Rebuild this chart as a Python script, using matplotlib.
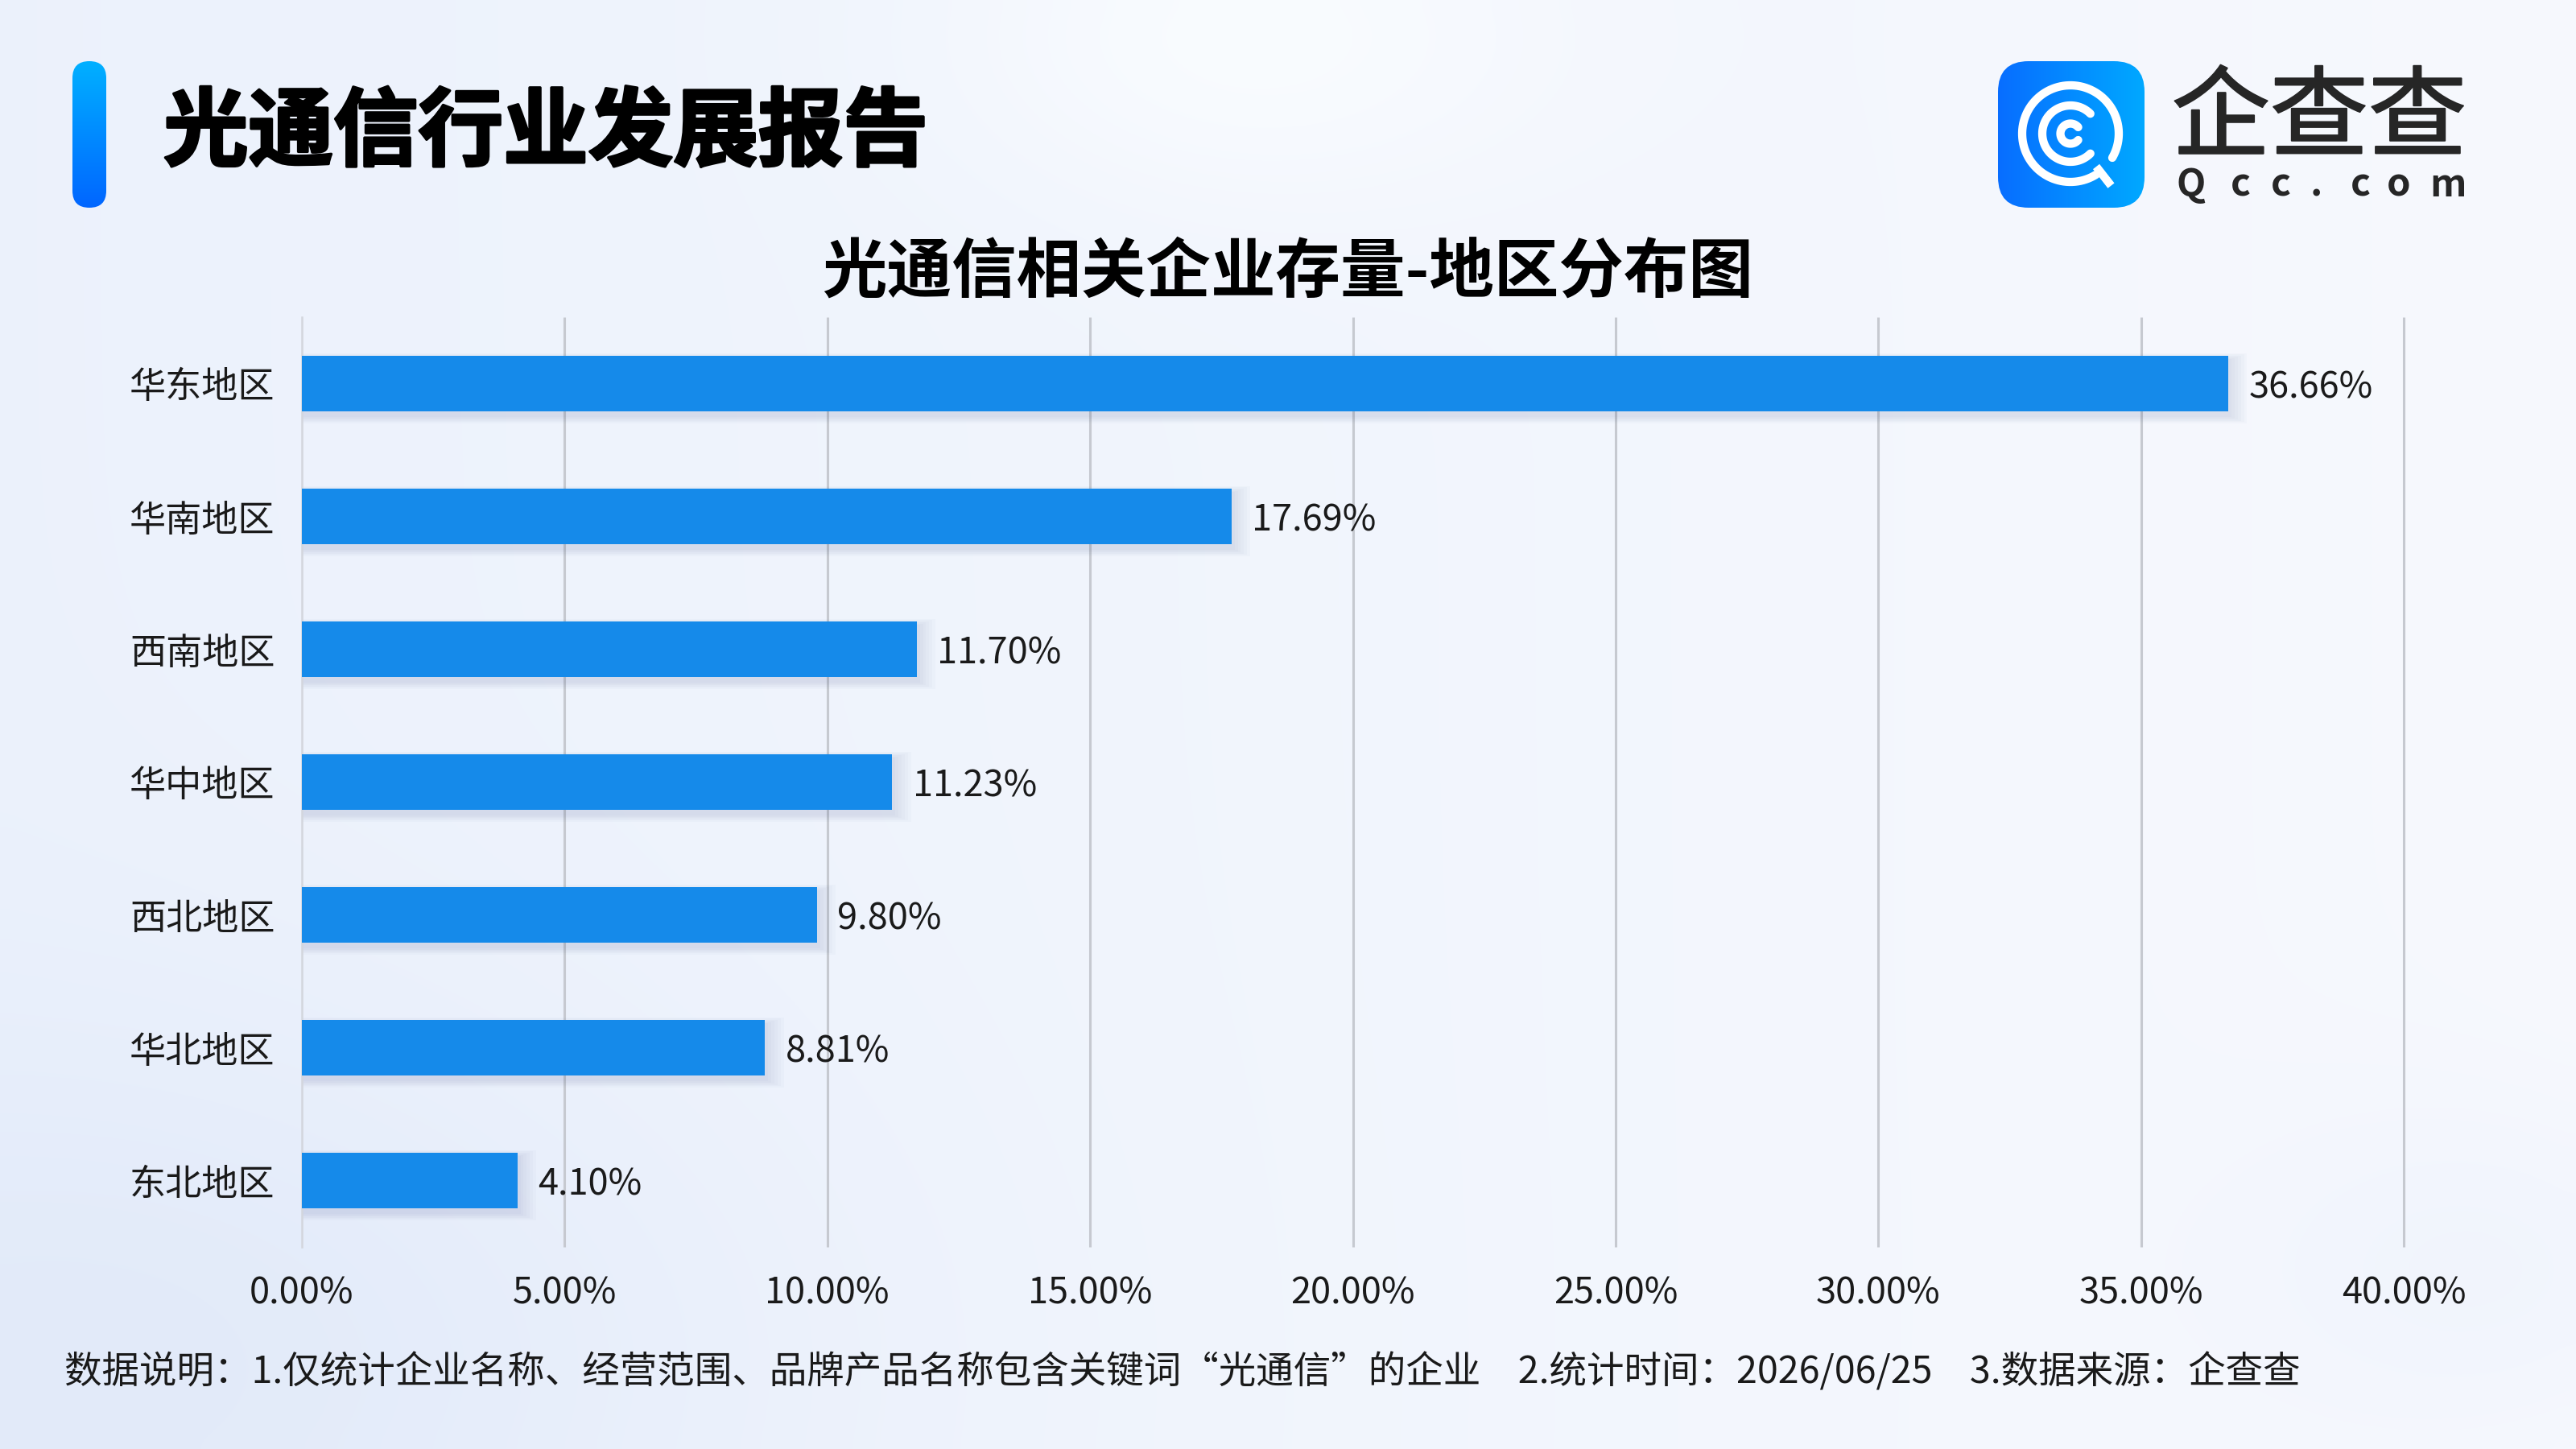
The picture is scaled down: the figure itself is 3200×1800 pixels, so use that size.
import numpy as np
import matplotlib
matplotlib.use('Agg')
import matplotlib.pyplot as plt
import matplotlib.patheffects as pe
from matplotlib.patches import FancyBboxPatch

# ---------------- data ----------------
categories = ['华东地区', '华南地区', '西南地区', '华中地区', '西北地区', '华北地区', '东北地区']
values = [36.66, 17.69, 11.70, 11.23, 9.80, 8.81, 4.10]
xticks = [0, 5, 10, 15, 20, 25, 30, 35, 40]
xtick_labels = ['0.00%', '5.00%', '10.00%', '15.00%', '20.00%', '25.00%', '30.00%', '35.00%', '40.00%']
header_title = '光通信行业发展报告'
chart_title = '光通信相关企业存量-地区分布图'
footnote = '数据说明：1.仅统计企业名称、经营范围、品牌产品名称包含关键词“光通信”的企业\u30002.统计时间：2026/06/25\u30003.数据来源：企查查'
logo_cn = '企查查'
logo_en = 'Qcc.com'

plt.rcParams['font.family'] = ['Noto Sans CJK SC', 'DejaVu Sans']

W, H = 3200, 1800
fig = plt.figure(figsize=(32, 18), dpi=100)

# ---------------- background ----------------
bg = fig.add_axes([0, 0, 1, 1], zorder=0)
gh, gw = 90, 160
yy, xx = np.mgrid[0:gh, 0:gw]
xn, yn = xx / (gw - 1), yy / (gh - 1)
c_left = np.array([0.925, 0.948, 0.988])
c_right = np.array([0.968, 0.976, 0.996])
img = c_left[None, None, :] * (1 - xn[..., None]) + c_right[None, None, :] * xn[..., None]
blob1 = np.exp(-(((xn - 0.05) / 0.25) ** 2 + ((yn - 0.95) / 0.25) ** 2))
blob2 = np.exp(-(((xn - 0.48) / 0.12) ** 2 + ((yn - 0.02) / 0.12) ** 2))
blob3 = np.exp(-(((xn - 0.97) / 0.1) ** 2 + ((yn - 0.88) / 0.12) ** 2))
img = img - blob1[..., None] * np.array([0.04, 0.03, 0.01]) \
          + blob2[..., None] * np.array([0.03, 0.025, 0.008]) \
          - blob3[..., None] * np.array([0.02, 0.015, 0.004])
img = np.clip(img, 0, 1)
bg.imshow(img, extent=[0, W, H, 0], aspect='auto', interpolation='bicubic')
bg.set_xlim(0, W)
bg.set_ylim(H, 0)
bg.axis('off')

# ---------------- chart ----------------
ax = fig.add_axes([375 / W, 1 - 1549 / H, 2611 / W, (1549 - 394) / H], zorder=2)
ax.patch.set_alpha(0)
ypos = np.arange(len(categories))
vals = np.array(values)
bar_h = 0.42

for k in range(1, 7):
    ax.barh(ypos + 0.035, vals + 0.06 * k, height=bar_h + 0.018 * k, left=0,
            color=(0.25, 0.35, 0.6), alpha=0.022, linewidth=0, zorder=2)
ax.barh(ypos, vals, height=bar_h, color='#158AEA', linewidth=0, zorder=3)

ax.set_xlim(xticks[0], xticks[-1])
ax.set_ylim(len(categories) - 0.5, -0.5)
ax.vlines(xticks[1:], -0.5, len(categories) - 0.5, colors='#C6C9D0', lw=2.2, zorder=1, clip_on=False)

for s in ['top', 'right', 'bottom']:
    ax.spines[s].set_visible(False)
ax.spines['left'].set_color('#D3D6DD')
ax.spines['left'].set_linewidth(1.8)

ax.set_xticks(xticks, xtick_labels)
ax.set_yticks(ypos, categories)
ax.tick_params(axis='x', length=0, pad=25, labelsize=32.5, labelcolor='#1a1a1a')
ax.tick_params(axis='y', length=0, pad=24, labelsize=32.5, labelcolor='#1a1a1a')
for lab in ax.get_yticklabels():
    lab.set_y(lab.get_position()[1])
    lab.set_va('center_baseline')

for i, v in enumerate(values):
    ax.annotate(f'{v:.2f}%', (v, ypos[i]), xytext=(18.5, 0), textcoords='offset points',
                va='center_baseline', ha='left', fontsize=32.5, color='#1a1a1a', zorder=4)

# ---------------- texts ----------------
fig.text(203 / W, 1 - 166 / H, header_title, fontsize=76, fontweight='heavy',
         ha='left', va='center', color='#000000', zorder=5,
         path_effects=[pe.withStroke(linewidth=2.5, foreground='#000000')])
fig.text(0.5, 1 - 339 / H, chart_title, fontsize=58, fontweight='bold',
         ha='center', va='center', color='#000000', zorder=5)
fig.text(80 / W, 1 - 1705 / H, footnote, fontsize=33.5,
         ha='left', va='center', color='#1a1a1a', zorder=5)

# ---------------- decorations (pixel overlay) ----------------
ov = fig.add_axes([0, 0, 1, 1], zorder=4)
ov.patch.set_alpha(0)

acc = FancyBboxPatch((90, 76), 42, 182, boxstyle='round,pad=0,rounding_size=21',
                     transform=ov.transData, facecolor='none', edgecolor='none')
ov.add_patch(acc)
t = np.linspace(0, 1, 100)[:, None]
top_c, bot_c = np.array([0.0, 0.69, 1.0]), np.array([0.0, 0.40, 1.0])
grad_v = (top_c[None, None, :] * (1 - t[..., None]) + bot_c[None, None, :] * t[..., None])
grad_v = np.repeat(grad_v, 4, axis=1)
im1 = ov.imshow(grad_v, extent=[90, 132, 258, 76], aspect='auto', interpolation='bilinear')
im1.set_clip_path(acc)

icon = FancyBboxPatch((2482, 76), 182, 182, boxstyle='round,pad=0,rounding_size=38',
                      transform=ov.transData, facecolor='none', edgecolor='none')
ov.add_patch(icon)
s = np.linspace(0, 1, 100)[None, :]
l_c, r_c = np.array([0.03, 0.43, 1.0]), np.array([0.0, 0.66, 1.0])
grad_h = (l_c[None, None, :] * (1 - s[..., None]) + r_c[None, None, :] * s[..., None])
grad_h = np.repeat(grad_h, 4, axis=0)
im2 = ov.imshow(grad_h, extent=[2482, 2664, 258, 76], aspect='auto', interpolation='bilinear')
im2.set_clip_path(icon)

cx, cy = 2572, 166
def ring(r, a1, a2):
    th = np.radians(np.linspace(a1, a2, 200))
    ov.plot(cx + r * np.cos(th), cy + r * np.sin(th), color='white', lw=7.4,
            solid_capstyle='round', zorder=6)
ring(60, 58, 390)
ring(35, 45, 315)
ring(12.5, 40, 320)
ha = np.radians(52)
ov.plot([cx + 52 * np.cos(ha), cx + 82 * np.cos(ha)], [cy + 52 * np.sin(ha), cy + 82 * np.sin(ha)],
        color='white', lw=7.4, solid_capstyle='butt', zorder=6)

ov.text(2881, 150, logo_cn, fontsize=88, ha='center', va='center', color='#262626', zorder=6,
        path_effects=[pe.withStroke(linewidth=1.5, foreground='#262626')])
en_x = [2722, 2783, 2833, 2877, 2932, 2980, 3041]
for ch, xpos in zip(logo_en, en_x):
    ov.text(xpos, 230, ch, fontsize=34, fontweight='bold', ha='center', va='center',
            color='#262626', zorder=6)

ov.set_xlim(0, W)
ov.set_ylim(H, 0)
ov.axis('off')

fig.savefig('out.png', dpi=100)
